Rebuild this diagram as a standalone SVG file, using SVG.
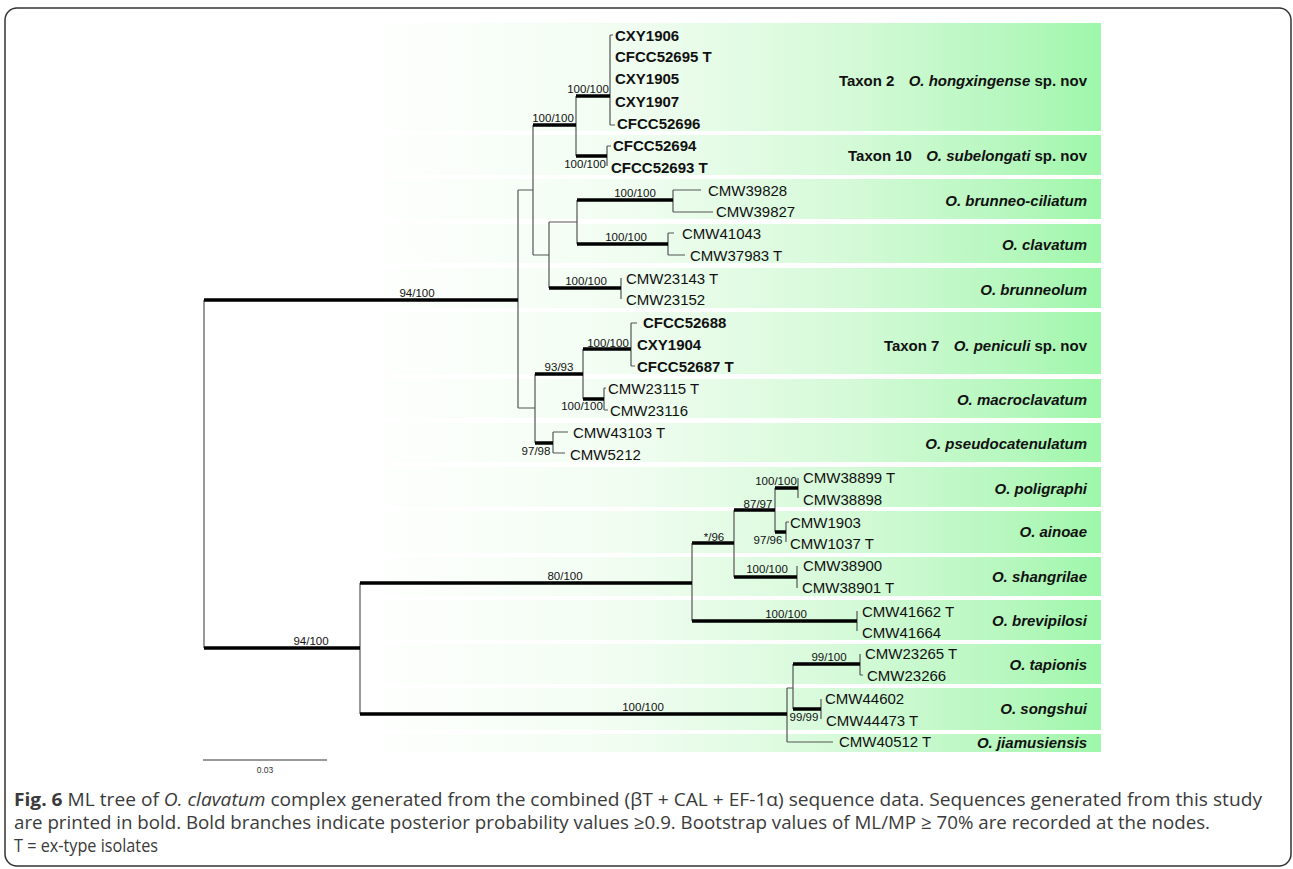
<svg xmlns="http://www.w3.org/2000/svg" width="1293" height="869" viewBox="0 0 1293 869">
<defs>
<linearGradient id="bandGrad" gradientUnits="userSpaceOnUse" x1="352" y1="0" x2="1101" y2="0">
<stop offset="0" stop-color="#ffffff"/>
<stop offset="0.35" stop-color="#f2fdf2"/>
<stop offset="0.65" stop-color="#d6fad9"/>
<stop offset="0.88" stop-color="#b6f7be"/>
<stop offset="1" stop-color="#9ef7aa"/>
</linearGradient>
<style>
.band{fill:url(#bandGrad)}
.thin{stroke:#555;stroke-width:1.2;fill:none}
.thick{stroke:#000;stroke-width:3.5;fill:none}
.bs{font-family:"Liberation Sans",Arial,sans-serif;font-size:11.5px;text-anchor:middle;fill:#111}
.leaf{font-family:"Liberation Sans",Arial,sans-serif;font-size:15px;fill:#111}
.b{font-weight:bold}
.clade{font-family:"Liberation Sans",Arial,sans-serif;font-size:15px;font-weight:bold;text-anchor:end;fill:#111}
.it{font-style:italic}
.cap{font-family:"Open Sans","Noto Sans",sans-serif;font-size:18.5px;fill:#3a3a3a}
</style>
</defs>
<rect x="5" y="8" width="1286" height="858" rx="12" fill="#fff" stroke="#333" stroke-width="1.5"/>

<g id="bands">
<rect class="band" x="352" y="23" width="749" height="108"/>
<rect class="band" x="352" y="135" width="749" height="40"/>
<rect class="band" x="352" y="179" width="749" height="40"/>
<rect class="band" x="352" y="224" width="749" height="39"/>
<rect class="band" x="352" y="268" width="749" height="40"/>
<rect class="band" x="352" y="312" width="749" height="62"/>
<rect class="band" x="352" y="379" width="749" height="39"/>
<rect class="band" x="352" y="423" width="749" height="39"/>
<rect class="band" x="352" y="467" width="749" height="40"/>
<rect class="band" x="352" y="511" width="749" height="42"/>
<rect class="band" x="352" y="557" width="749" height="39"/>
<rect class="band" x="352" y="600" width="749" height="40"/>
<rect class="band" x="352" y="644" width="749" height="40"/>
<rect class="band" x="352" y="688" width="749" height="42"/>
<rect class="band" x="352" y="734" width="749" height="18"/>
</g>

<g id="connectors">
<path class="thin" d="M204 300V648M518 190V408M518 190H533M518 408H535M533 125V255M533 255H549M549 222V288M549 222H577M577 200V244M576 96V156M610 35V125M610 35H613M610 125H615M607 146V166M607 146H611M673 190V212M673 190H701M673 212H713M668 233V255M668 233H674M668 255H685M621 278V299M535 374V443M583 349V399M631 323V366M631 323H637M631 366H635M604 388V410M604 388H606M604 410H608M553 432V453M553 432H568M553 453H565M360 583V714M692 543V621M734 510V577M775 488V532M798 478V498M786 522V542M786 522H789M797 566V588M857 611V631M787 688V742M787 688H793M787 742H833M793 664V709M860 654V675M860 675H863M821 699V719"/>
<path class="thick" d="M204 300H518M204 648H360M533 125H576M576 96H610M576 156H607M549 288H621M577 200H673M577 244H668M535 374H583M535 443H553M583 349H631M583 399H604M360 583H692M360 714H787M692 543H734M692 621H857M734 510H775M734 577H797M775 488H798M775 532H786M793 664H860M793 709H821"/>
</g>

<g id="support-values">
<text class="bs" x="417" y="297">94/100</text>
<text class="bs" x="311" y="645">94/100</text>
<text class="bs" x="553" y="122">100/100</text>
<text class="bs" x="588" y="93">100/100</text>
<text class="bs" x="585" y="168">100/100</text>
<text class="bs" x="635" y="197">100/100</text>
<text class="bs" x="626" y="241">100/100</text>
<text class="bs" x="586" y="285">100/100</text>
<text class="bs" x="559" y="371">93/93</text>
<text class="bs" x="608" y="347">100/100</text>
<text class="bs" x="582" y="410">100/100</text>
<text class="bs" x="536" y="455">97/98</text>
<text class="bs" x="565" y="580">80/100</text>
<text class="bs" x="643" y="711">100/100</text>
<text class="bs" x="714" y="541">*/96</text>
<text class="bs" x="786" y="618">100/100</text>
<text class="bs" x="758" y="508">87/97</text>
<text class="bs" x="767" y="573">100/100</text>
<text class="bs" x="776" y="485">100/100</text>
<text class="bs" x="768" y="544">97/96</text>
<text class="bs" x="829" y="661">99/100</text>
<text class="bs" x="804" y="721">99/99</text>
</g>

<g id="taxon2">
<text class="leaf b" x="615" y="40.5">CXY1906</text>
<text class="leaf b" x="615" y="61.5">CFCC52695 T</text>
<text class="leaf b" x="615" y="84">CXY1905</text>
<text class="leaf b" x="615" y="107">CXY1907</text>
<text class="leaf b" x="617" y="128.5">CFCC52696</text>
<text class="clade" x="1087" y="86">Taxon 2<tspan dx="10"> </tspan><tspan class="it">O. hongxingense</tspan> sp. nov</text>
</g>
<g id="taxon10">
<text class="leaf b" x="613" y="151">CFCC52694</text>
<text class="leaf b" x="611" y="173">CFCC52693 T</text>
<text class="clade" x="1087" y="161">Taxon 10<tspan dx="10"> </tspan><tspan class="it">O. subelongati</tspan> sp. nov</text>
</g>
<g id="brunneo-ciliatum">
<text class="leaf" x="708" y="196">CMW39828</text>
<text class="leaf" x="716" y="217">CMW39827</text>
<text class="clade it" x="1087" y="206">O. brunneo-ciliatum</text>
</g>
<g id="clavatum">
<text class="leaf" x="682" y="238.5">CMW41043</text>
<text class="leaf" x="690" y="261">CMW37983 T</text>
<text class="clade it" x="1087" y="250">O. clavatum</text>
</g>
<g id="brunneolum">
<text class="leaf" x="626" y="283.5">CMW23143 T</text>
<text class="leaf" x="626" y="305">CMW23152</text>
<text class="clade it" x="1087" y="295">O. brunneolum</text>
</g>
<g id="taxon7">
<text class="leaf b" x="643" y="327.5">CFCC52688</text>
<text class="leaf b" x="637" y="349.5">CXY1904</text>
<text class="leaf b" x="637" y="372">CFCC52687 T</text>
<text class="clade" x="1087" y="351">Taxon 7<tspan dx="10"> </tspan><tspan class="it">O. peniculi</tspan> sp. nov</text>
</g>
<g id="macroclavatum">
<text class="leaf" x="608" y="394">CMW23115 T</text>
<text class="leaf" x="610" y="416">CMW23116</text>
<text class="clade it" x="1087" y="405">O. macroclavatum</text>
</g>
<g id="pseudocatenulatum">
<text class="leaf" x="573" y="437.5">CMW43103 T</text>
<text class="leaf" x="570" y="459.5">CMW5212</text>
<text class="clade it" x="1087" y="449">O. pseudocatenulatum</text>
</g>
<g id="poligraphi">
<text class="leaf" x="803" y="482.5">CMW38899 T</text>
<text class="leaf" x="803" y="505">CMW38898</text>
<text class="clade it" x="1087" y="494">O. poligraphi</text>
</g>
<g id="ainoae">
<text class="leaf" x="790" y="527.5">CMW1903</text>
<text class="leaf" x="790" y="548.5">CMW1037 T</text>
<text class="clade it" x="1087" y="537">O. ainoae</text>
</g>
<g id="shangrilae">
<text class="leaf" x="803" y="571">CMW38900</text>
<text class="leaf" x="802" y="593">CMW38901 T</text>
<text class="clade it" x="1087" y="582">O. shangrilae</text>
</g>
<g id="brevipilosi">
<text class="leaf" x="862" y="617">CMW41662 T</text>
<text class="leaf" x="862" y="637.5">CMW41664</text>
<text class="clade it" x="1087" y="626">O. brevipilosi</text>
</g>
<g id="tapionis">
<text class="leaf" x="865" y="659">CMW23265 T</text>
<text class="leaf" x="867" y="681">CMW23266</text>
<text class="clade it" x="1087" y="670">O. tapionis</text>
</g>
<g id="songshui">
<text class="leaf" x="825" y="704">CMW44602</text>
<text class="leaf" x="826" y="726">CMW44473 T</text>
<text class="clade it" x="1087" y="714">O. songshui</text>
</g>
<g id="jiamusiensis">
<text class="leaf" x="839" y="747">CMW40512 T</text>
<text class="clade it" x="1087" y="748">O. jiamusiensis</text>
</g>

<g id="scale-bar">
<path d="M203 760H327" stroke="#777" stroke-width="1.5"/>
<text x="265" y="773" font-family="Liberation Sans, Arial, sans-serif" font-size="8.5" text-anchor="middle" fill="#333">0.03</text>
</g>

<g id="caption">
<text class="cap" x="14" y="806" textLength="1248" lengthAdjust="spacingAndGlyphs"><tspan font-weight="bold">Fig. 6</tspan> ML tree of <tspan font-style="italic">O. clavatum</tspan> complex generated from the combined (βT + CAL + EF-1α) sequence data. Sequences generated from this study</text>
<text class="cap" x="14" y="829" textLength="1196" lengthAdjust="spacingAndGlyphs">are printed in bold. Bold branches indicate posterior probability values ≥0.9. Bootstrap values of ML/MP ≥ 70% are recorded at the nodes.</text>
<text class="cap" x="14" y="852" textLength="144" lengthAdjust="spacingAndGlyphs">T = ex-type isolates</text>
</g>
</svg>
